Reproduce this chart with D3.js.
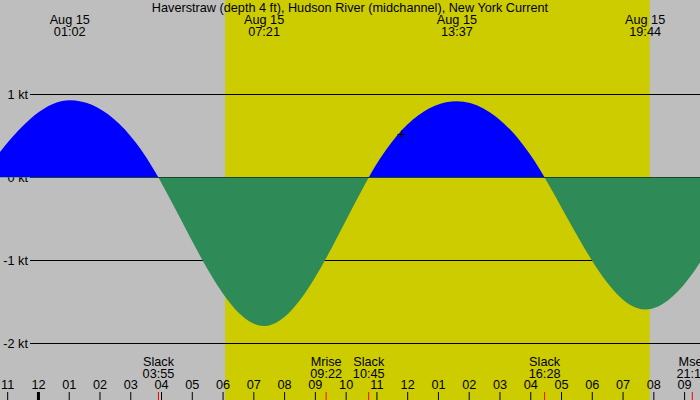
<!DOCTYPE html>
<html>
<head>
<meta charset="utf-8">
<script src="https://cdn.jsdelivr.net/npm/d3@7"></script>
<style>
body { margin: 0; }
svg { display: block; font-family: "Liberation Sans", Arial, sans-serif; font-size: 12.7px; }
</style>
</head>
<body>
<svg id="chart"></svg>
<script>
const width = 700;
const height = 400;

const title = "Haverstraw (depth 4 ft), Hudson River (midchannel), New York Current";

// slack / max flood / max ebb events, knots (first and last are just outside the window)
const eventTimes = ["08-14 22:08", "08-15 01:02", "08-15 03:55", "08-15 07:21", "08-15 10:45",
    "08-15 13:37", "08-15 16:28", "08-15 19:44", "08-15 23:00"];
const eventSpeeds = [0, 0.93, 0, -1.79, 0, 0.92, 0, -1.59, 0];

const maxTimes = ["08-15 01:02", "08-15 07:21", "08-15 13:37", "08-15 19:44"];
const maxDates = ["Aug 15", "Aug 15", "Aug 15", "Aug 15"];
const maxLabels = ["01:02", "07:21", "13:37", "19:44"];

const markTimes = ["08-15 03:55", "08-15 09:22", "08-15 10:45", "08-15 16:28", "08-15 21:16"];
const markNames = ["Slack", "Mrise", "Slack", "Slack", "Mset"];
const markLabels = ["03:55", "09:22", "10:45", "16:28", "21:16"];

const sunrise = "08-15 06:05";
const sunset = "08-15 19:53";

const nowTime = "08-15 11:48";
const nowSpeed = 0.53;

const speedTicks = [1, 0, -1, -2];
const timeDomain = ["08-14 22:46", "08-15 21:31"];

const parse = d3.timeParse("%m-%d %H:%M");

// cubic through the events: flat at each max/min, steep through slack
function tideCurve(context) {
    let pts, line;
    return {
        areaStart() { line = 0; },
        areaEnd() { line = NaN; },
        lineStart() { pts = []; },
        point(px, py) { pts.push([+px, +py]); },
        lineEnd() {
            const n = pts.length;
            const sec = d3.pairs(pts, (a, b) => (b[1] - a[1]) / (b[0] - a[0]));
            const m = pts.map((p, i) => {
                const s0 = i > 0 ? sec[i - 1] : sec[0];
                const s1 = i < n - 1 ? sec[i] : sec[n - 2];
                return s0 * s1 < 0 ? 0 : Math.PI / 4 * (s0 + s1);
            });
            pts.forEach((p, i) => {
                if (i === 0) {
                    if (line) context.lineTo(p[0], p[1]);
                    else context.moveTo(p[0], p[1]);
                    return;
                }
                const q = pts[i - 1];
                const dx = (p[0] - q[0]) / 3;
                context.bezierCurveTo(q[0] + dx, q[1] + m[i - 1] * dx,
                    p[0] - dx, p[1] - m[i] * dx, p[0], p[1]);
            });
            if (line) context.closePath();
            line = 1 - line;
        }
    };
}

const svg = d3.select("#chart")
    .attr("width", width)
    .attr("height", height);

const x = d3.scaleTime()
    .domain(timeDomain.map(parse))
    .range([0, width]);

const y = d3.scaleLinear()
    .domain([-2, 1])
    .range([343.5, 94.5]);

// night / day background
svg.append("rect")
    .attr("width", width)
    .attr("height", height)
    .attr("fill", "#bebebe");

svg.append("rect")
    .attr("x", x(parse(sunrise)))
    .attr("width", x(parse(sunset)) - x(parse(sunrise)))
    .attr("height", height)
    .attr("fill", "#cccc00");

// speed lines
svg.selectAll("line.grid")
    .data(speedTicks)
    .enter()
    .append("line")
    .attr("class", "grid")
    .attr("x1", 30)
    .attr("x2", width)
    .attr("y1", d => y(d))
    .attr("y2", d => y(d))
    .attr("stroke", "#000")
    .attr("stroke-width", 1);

svg.selectAll("text.klabel")
    .data(speedTicks)
    .enter()
    .append("text")
    .attr("class", "klabel")
    .attr("x", 28)
    .attr("y", d => y(d))
    .attr("dy", "0.36em")
    .attr("text-anchor", "end")
    .text(d => d + " kt");

// current curve
const events = eventTimes.map((t, i) => ({ t: parse(t), v: eventSpeeds[i] }));
const zeroY = Math.floor(y(0));

const defs = svg.append("defs");
defs.append("clipPath").attr("id", "clipFlood")
    .append("rect").attr("width", width).attr("height", zeroY);
defs.append("clipPath").attr("id", "clipEbb")
    .append("rect").attr("y", zeroY).attr("width", width).attr("height", height - zeroY);

const area = d3.area()
    .x(d => x(d.t))
    .y0(y(0))
    .y1(d => y(d.v))
    .curve(tideCurve);

svg.append("path")
    .datum(events)
    .attr("d", area)
    .attr("fill", "#0000ff")
    .attr("clip-path", "url(#clipFlood)");

svg.append("path")
    .datum(events)
    .attr("d", area)
    .attr("fill", "#2e8b57")
    .attr("clip-path", "url(#clipEbb)");

// current time marker
const nx = Math.round(x(parse(nowTime))) + 0.5;
const ny = Math.round(y(nowSpeed)) + 0.5;
svg.append("path")
    .attr("d", `M${nx - 4},${ny}H${nx + 4}M${nx},${ny - 4}V${ny + 4}`)
    .attr("stroke", "#000")
    .attr("stroke-width", 1)
    .attr("fill", "none");

// title and max labels
svg.append("text")
    .attr("x", width / 2)
    .attr("y", 12)
    .attr("text-anchor", "middle")
    .text(title);

const maxG = svg.selectAll("g.max")
    .data(maxTimes)
    .enter()
    .append("g")
    .attr("class", "max")
    .attr("transform", d => `translate(${x(parse(d))},0)`);

maxG.append("text")
    .attr("y", 24)
    .attr("text-anchor", "middle")
    .text((d, i) => maxDates[i]);

maxG.append("text")
    .attr("y", 36)
    .attr("text-anchor", "middle")
    .text((d, i) => maxLabels[i]);

// hour axis
const axis = svg.append("g")
    .attr("transform", `translate(0,${height})`)
    .call(d3.axisTop(x)
        .ticks(d3.timeHour.every(1))
        .tickFormat(d3.timeFormat("%I"))
        .tickSize(8)
        .tickPadding(3));

axis.select(".domain").remove();
axis.selectAll("text")
    .attr("fill", "#000")
    .style("font-size", "12.7px")
    .style("font-family", "Liberation Sans");
axis.selectAll("line")
    .attr("stroke", "#000")
    .attr("stroke-width", d => d.getHours() === 0 ? 3 : 1);

// slack / moon event marks
svg.selectAll("line.mark")
    .data(markTimes)
    .enter()
    .append("line")
    .attr("class", "mark")
    .attr("x1", d => x(parse(d)))
    .attr("x2", d => x(parse(d)))
    .attr("y1", height - 8)
    .attr("y2", height)
    .attr("stroke", "#ff0000");

const markG = svg.selectAll("g.mark")
    .data(markTimes)
    .enter()
    .append("g")
    .attr("class", "mark")
    .attr("transform", d => `translate(${x(parse(d))},0)`);

markG.append("text")
    .attr("y", 366)
    .attr("text-anchor", "middle")
    .text((d, i) => markNames[i]);

markG.append("text")
    .attr("y", 378)
    .attr("text-anchor", "middle")
    .text((d, i) => markLabels[i]);
</script>
</body>
</html>
